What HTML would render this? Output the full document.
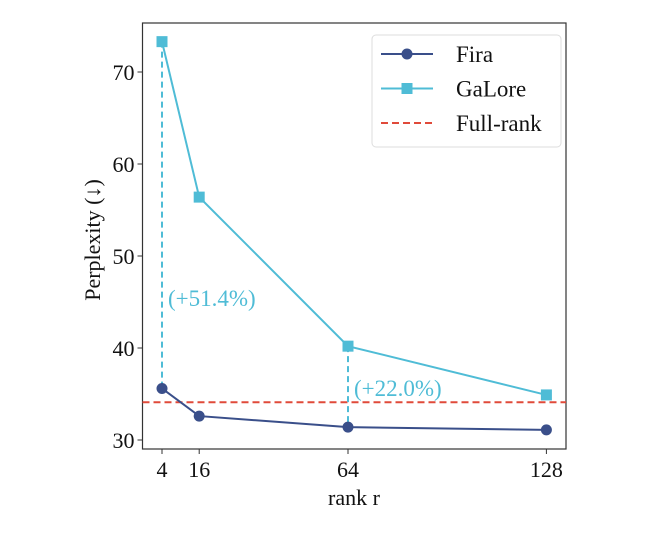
<!DOCTYPE html>
<html><head><meta charset="utf-8"><style>
body{margin:0;background:#fff}
svg{display:block;font-family:"Liberation Serif",serif}
</style></head><body>
<svg id="chart" width="666" height="533" xmlns="http://www.w3.org/2000/svg"></svg>
<script>
const ranks=[4,16,64,128];
const fira=[35.6,32.6,31.4,31.1];
const galore=[73.3,56.4,40.2,34.9];
const fullRank=34.1;
const yTicks=[30,40,50,60,70];
const xTicks=[4,16,64,128];
const annotations=[{rank:4,label:"(+51.4%)"},{rank:64,label:"(+22.0%)"}];
const NS="http://www.w3.org/2000/svg";
const svg=document.getElementById('chart');
const L=142.5,R=566,T=23,B=449;
const xs=v=>162+(v-4)*3.1;
const ys=v=>440-(v-30)*9.2;
function el(tag,attrs,parent){const e=document.createElementNS(NS,tag);for(const k in attrs)e.setAttribute(k,attrs[k]);(parent||svg).appendChild(e);return e;}
const FIRA="#3a4f8a",GAL="#4fbcd6",RED="#e04a3a";
const frame=el('rect',{x:L,y:T,width:R-L,height:B-T,fill:'none',stroke:'#333','stroke-width':1.2});


yTicks.forEach(v=>{
  const t=el('line',{x1:L-5,x2:L,y1:ys(v),y2:ys(v),stroke:'#333'});
  
  
  const tx=el('text',{x:L-8,y:ys(v)+8,'text-anchor':'end','font-size':22,fill:'#111'});
  tx.textContent=v;
  
  
});
xTicks.forEach(v=>{
  const t=el('line',{x1:xs(v),x2:xs(v),y1:B,y2:B+5,stroke:'#333'});
  
  
  const tx=el('text',{x:xs(v),y:B+28,'text-anchor':'middle','font-size':22,fill:'#111'});
  tx.textContent=v;
  
  
});
const xl=el('text',{x:354,y:505,'text-anchor':'middle','font-size':22,fill:'#111'});
xl.textContent='rank r';


const yl=el('text',{x:0,y:0,'text-anchor':'middle','font-size':22,fill:'#111',transform:'translate(100,240) rotate(-90)'});
yl.textContent='Perplexity (↓)';


const fr=el('line',{x1:L,x2:R,y1:ys(fullRank),y2:ys(fullRank),stroke:RED,'stroke-width':2,'stroke-dasharray':'7,4'});


annotations.forEach(a=>{
  const i=ranks.indexOf(a.rank);
  const d=el('line',{x1:xs(a.rank),x2:xs(a.rank),y1:ys(galore[i]),y2:ys(fira[i]),stroke:GAL,'stroke-width':2,'stroke-dasharray':'6,4'});
  
  
  const ty=i===0?306:ys(fira[i])-31;
  const t=el('text',{x:xs(a.rank)+6,y:ty,'font-size':23,fill:GAL});
  t.textContent=a.label;
  
  
});
function series(vals,color,name,marker){
  const p=el('polyline',{points:vals.map((v,i)=>xs(ranks[i])+','+ys(v)).join(' '),fill:'none',stroke:color,'stroke-width':2});
  
  
  vals.forEach((v,i)=>{
    let m;
    if(marker==='circle')m=el('circle',{cx:xs(ranks[i]),cy:ys(v),r:5.5,fill:color});
    else m=el('rect',{x:xs(ranks[i])-5.5,y:ys(v)-5.5,width:11,height:11,fill:color});
    
    
  });
}
series(galore,GAL,'galore','square');
series(fira,FIRA,'fira','circle');
const lg=el('g',{});


el('rect',{x:372,y:35,width:189,height:112,rx:4,fill:'#fff',stroke:'#ddd'},lg);
const items=[['Fira',FIRA,'circle'],['GaLore',GAL,'square'],['Full-rank',RED,'dash']];
items.forEach((it,i)=>{
  const y=54+i*34.5;
  const g=el('g',{},lg);
  
  
  el('line',{x1:381,x2:433,y1:y,y2:y,stroke:it[1],'stroke-width':2,'stroke-dasharray':it[2]==='dash'?'7,4':'none'},g);
  if(it[2]==='circle')el('circle',{cx:407,cy:y,r:5.5,fill:it[1]},g);
  if(it[2]==='square')el('rect',{x:401.5,y:y-5.5,width:11,height:11,fill:it[1]},g);
  const t=el('text',{x:456,y:y+8,'font-size':23,fill:'#111'},g);
  t.textContent=it[0];
});
</script>
</body></html>
